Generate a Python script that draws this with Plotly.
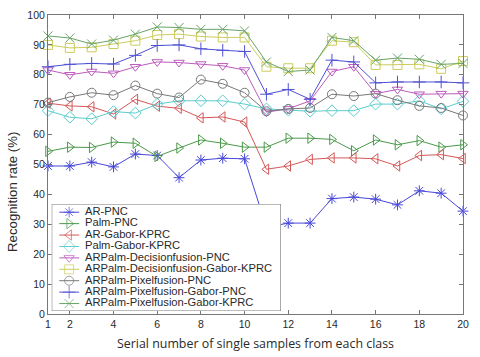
import plotly.graph_objects as go

samples = list(range(1, 21))

ar_pnc = [49.5, 49.5, 50.8, 49.2, 53.5, 53.0, 45.6, 51.5, 52.1, 51.9,
          29.0, 30.4, 30.4, 38.6, 39.1, 38.4, 36.5, 41.2, 40.4, 34.4]
palm_pnc = [54.4, 55.8, 55.7, 57.5, 57.1, 52.7, 55.5, 58.2, 57.1, 55.8,
            55.8, 58.8, 58.8, 58.4, 54.6, 58.2, 56.6, 58.0, 55.8, 56.6]
ar_gabor_kprc = [70.5, 69.6, 69.3, 66.9, 71.8, 69.5, 68.8, 65.6, 65.9, 64.2,
                 48.4, 49.5, 51.7, 52.2, 52.2, 51.9, 49.5, 53.0, 53.3, 52.0]
palm_gabor_kprc = [68.0, 65.8, 65.3, 67.7, 67.2, 70.2, 71.3, 71.3, 71.3, 70.2,
                   68.6, 68.2, 67.8, 68.0, 68.0, 70.2, 70.2, 71.3, 68.6, 71.1]
dec_pnc = [81.6, 80.0, 81.1, 80.5, 82.7, 84.3, 84.1, 83.6, 83.0, 81.6,
           67.5, 68.6, 71.3, 81.1, 82.7, 73.7, 75.1, 73.5, 73.7, 73.7]
dec_gabor_kprc = [90.0, 89.0, 89.2, 90.3, 91.4, 93.3, 93.6, 92.8, 92.5, 92.5,
                  82.7, 82.2, 82.2, 91.4, 90.9, 83.3, 83.3, 83.5, 82.0, 84.6]
pix_pnc = [70.7, 72.6, 74.0, 73.2, 76.4, 73.7, 72.4, 78.4, 77.0, 74.0,
           67.8, 68.6, 68.9, 73.5, 72.9, 73.7, 71.5, 69.6, 68.9, 66.4]
pix_gabor_pnc = [82.7, 83.5, 83.8, 83.6, 86.5, 89.8, 90.0, 88.7, 88.2, 87.8,
                 73.5, 75.1, 71.8, 84.9, 84.3, 77.3, 77.6, 77.6, 77.6, 77.3]
pix_gabor_kprc = [93.0, 92.3, 90.3, 91.6, 93.6, 96.0, 95.8, 95.2, 95.2, 94.7,
                  84.3, 81.1, 81.6, 92.5, 91.4, 84.9, 85.6, 85.2, 83.5, 83.8]

series = [
    ("AR-PNC", ar_pnc, "asterisk-open", "#4848d8"),
    ("Palm-PNC", palm_pnc, "triangle-right-open", "#4a984a"),
    ("AR-Gabor-KPRC", ar_gabor_kprc, "triangle-left-open", "#d45858"),
    ("Palm-Gabor-KPRC", palm_gabor_kprc, "diamond-open", "#5ccccc"),
    ("ARPalm-Decisionfusion-PNC", dec_pnc, "triangle-down-open", "#bc5cbc"),
    ("ARPalm-Decisionfusion-Gabor-KPRC", dec_gabor_kprc, "square-open", "#cccc5c"),
    ("ARPalm-Pixelfusion-PNC", pix_pnc, "circle-open", "#787878"),
    ("ARPalm-Pixelfusion-Gabor-PNC", pix_gabor_pnc, "cross-thin-open", "#5050d4"),
    ("ARPalm-Pixelfusion-Gabor-KPRC", pix_gabor_kprc, "x-thin-open", "#68a468"),
]

x_ticks = [1, 2, 4, 6, 8, 10, 12, 14, 16, 18, 20]
y_ticks = list(range(0, 101, 10))

fig = go.Figure()

# main series
for name, vals, sym, col in series:
    fig.add_trace(go.Scatter(
        x=samples, y=vals, mode="lines+markers", name=name,
        line=dict(color=col, width=1),
        marker=dict(symbol=sym, size=9, color=col, line=dict(color=col, width=1)),
        cliponaxis=False, showlegend=False,
    ))

# hand-made legend in an overlay subplot (matlab style, tight rows)
top_row, row_gap = 0.923, 0.1066
for i, (name, vals, sym, col) in enumerate(series):
    yy = top_row - i * row_gap
    fig.add_trace(go.Scatter(
        x=[0.033, 0.076, 0.12], y=[yy, yy, yy], mode="lines+markers",
        line=dict(color=col, width=1),
        marker=dict(symbol=sym, size=[0, 9, 0], color=col, line=dict(color=col, width=1)),
        xaxis="x2", yaxis="y2", showlegend=False, hoverinfo="skip", cliponaxis=False,
    ))
    fig.add_trace(go.Scatter(
        x=[0.145], y=[yy], mode="text", text=[name], textposition="middle right",
        textfont=dict(family="Liberation Sans, Arial", size=11.2, color="#2a2a2a"),
        xaxis="x2", yaxis="y2", showlegend=False, hoverinfo="skip", cliponaxis=False,
    ))

fig.add_shape(type="rect", xref="x2", yref="y2", x0=0, x1=1, y0=0, y1=1,
              fillcolor="white", line=dict(color="#666", width=1), layer="below")

axis_common = dict(showgrid=False, zeroline=False, showline=True, linecolor="#777",
                   linewidth=1, mirror="allticks", ticks="inside", ticklen=4,
                   tickcolor="#777",
                   tickfont=dict(family="Liberation Sans, Arial", size=10.5, color="#2a2a2a"))

fig.update_layout(
    width=480, height=357,
    margin=dict(l=48, r=17, t=9, b=42),
    paper_bgcolor="white", plot_bgcolor="white",
    xaxis=dict(range=[1, 20], tickvals=x_ticks, **axis_common,
               title=dict(text="Serial number of single samples from each class",
                          font=dict(family="Open Sans", size=12.4, color="#2a2a2a"),
                          standoff=10)),
    yaxis=dict(range=[0, 100], tickvals=y_ticks, **axis_common),
    xaxis2=dict(domain=[0.009, 0.561], range=[0, 1], visible=False, anchor="y2"),
    yaxis2=dict(domain=[0.0098, 0.368], range=[0, 1], visible=False, anchor="x2"),
)

# y title sits below the axis middle in the original, so place it by hand
fig.add_annotation(text="Recognition rate (%)", textangle=-90, showarrow=False,
                   xref="paper", yref="paper", x=-0.087, y=0.408,
                   xanchor="center", yanchor="middle",
                   font=dict(family="Liberation Sans, Arial", size=13.2, color="#2a2a2a"))

# page body has a default 8px margin; drop it so the figure sits at the corner
fig.write_html("out.html", config={"displayModeBar": False},
               post_script="document.body.style.margin='0';")
